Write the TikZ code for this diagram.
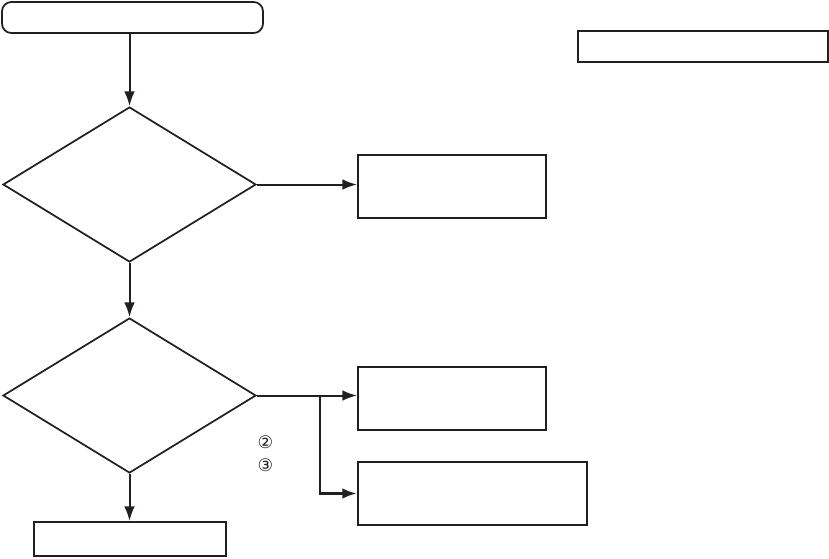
\documentclass[tikz,border=0pt]{standalone}
\usepackage{fontspec}
\newfontfamily\symfont{DejaVu Sans}
\usetikzlibrary{positioning,arrows.meta,shapes.geometric}
\definecolor{ink}{RGB}{35,31,32}

\begin{document}
\begin{tikzpicture}[x=0.75pt,y=-0.75pt,>={Latex[length=11pt,width=8pt]},
  line width=1.5pt,draw=ink,
  start/.style={draw=ink,line width=1.3pt,rounded corners=7pt,minimum width=195.75pt,minimum height=23.25pt,inner sep=0pt},
  test/.style={draw=ink,line width=1.3pt,diamond,minimum width=189.75pt,minimum height=116.25pt,inner sep=0pt},
  act/.style={draw=ink,line width=1.5pt,minimum width=141pt,minimum height=47.25pt,inner sep=0pt},
  note/.style={draw=ink,line width=1.5pt,minimum height=23.25pt,inner sep=0pt},
  stepno/.style={font=\symfont\fontsize{13}{13}\selectfont,text=ink,inner sep=0pt}]
  \useasboundingbox (0,0) rectangle (829,558);
  \node[start] (begin) at (132.5,17.5) {};
  \node[note,minimum width=187.5pt] (legend) at (703,46.5) {};
  \node[test] (q1) at (129.5,184.5) {};
  \node[act] (fix1) at (452,186.5) {};
  \node[test] (q2) at (129.5,395.5) {};
  \node[act] (fix2) at (452,398.5) {};
  \node[act,minimum width=171.75pt] (fix3) at (472.5,493.5) {};
  \node[note,minimum width=144pt,minimum height=25.5pt] (done) at (129.5,539) {};
  \node[stepno] (m2) at (265.5,442) {②};
  \node[stepno] (m3) at (265.5,465) {③};
  \draw[->,ink] (begin.south -| q1.north) -- (q1.north);
  \draw[->,ink] (q1.east) -- (fix1.west |- q1.east);
  \draw[->,ink] (q1.south) -- (q2.north);
  \draw[->,ink] (q2.east) -- (fix2.west |- q2.east);
  \coordinate (split) at (320,395.5);
  \draw[->,ink,line width=2.2pt] (split) |- (fix3.west);
  \draw[->,ink] (q2.south) -- (q2.south |- done.north);
\end{tikzpicture}
\end{document}
